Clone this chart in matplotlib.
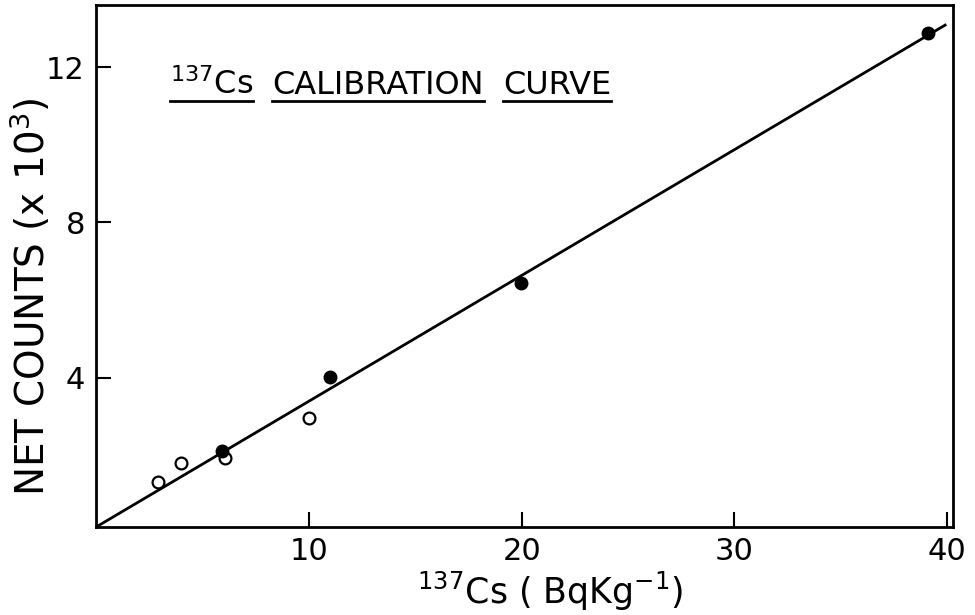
import matplotlib.pyplot as plt

# data
open_x = [2.9, 4.0, 6.05, 10.0]
open_y = [1.31, 1.80, 1.93, 2.96]
filled_x = [5.93, 11.0, 19.97, 39.1]
filled_y = [2.10, 4.02, 6.43, 12.88]
fit_x = [0, 39.9]
fit_y = [0.15, 13.08]

xticks = [10, 20, 30, 40]
yticks = [4, 8, 12]

plt.rcParams["font.family"] = "DejaVu Sans"
plt.rcParams["mathtext.default"] = "regular"

fig = plt.figure(figsize=(9.75, 6.15), dpi=100)
ax = fig.add_axes([0.0985, 0.143, 0.8785, 0.849])

ax.plot(fit_x, fit_y, color="black", lw=2)
ax.plot(open_x, open_y, "o", mfc="white", mec="black", mew=1.6, ms=8.5)
ax.plot(filled_x, filled_y, "o", color="black", ms=9)

ax.set_xlim(0, 40.25)
ax.set_ylim(0.15, 13.6)
ax.set_xticks(xticks)
ax.set_yticks(yticks)
ax.tick_params(direction="in", length=11, width=1.5, labelsize=22)
ax.tick_params(axis="x", pad=7)
ax.tick_params(axis="y", pad=8)
for s in ax.spines.values():
    s.set_linewidth(2)

ax.set_xlabel("$^{137}$Cs ( BqKg$^{-1}$)", fontsize=25)
ax.xaxis.set_label_coords(0.53, -0.081)
ax.xaxis.label.set_va("top")
ax.set_ylabel("NET COUNTS (x 10$^{3}$)", fontsize=28)
ax.yaxis.set_label_coords(-0.05, 0.44)

# title pieces with underlines
parts = [("$^{137}$Cs", 170), ("CALIBRATION", 272), ("CURVE", 503)]
texts = []
for s, px in parts:
    t = fig.text(px / 975, 1 - 94 / 615, s, fontsize=23, ha="left", va="baseline")
    texts.append(t)

fig.canvas.draw()
r = fig.canvas.get_renderer()
for t in texts:
    bb = t.get_window_extent(r)
    y = 1 - 101 / 615
    fig.add_artist(plt.Line2D([bb.x0 / 975, bb.x1 / 975], [y, y],
                              transform=fig.transFigure, color="black", lw=2))

plt.savefig("out.png", dpi=100)
